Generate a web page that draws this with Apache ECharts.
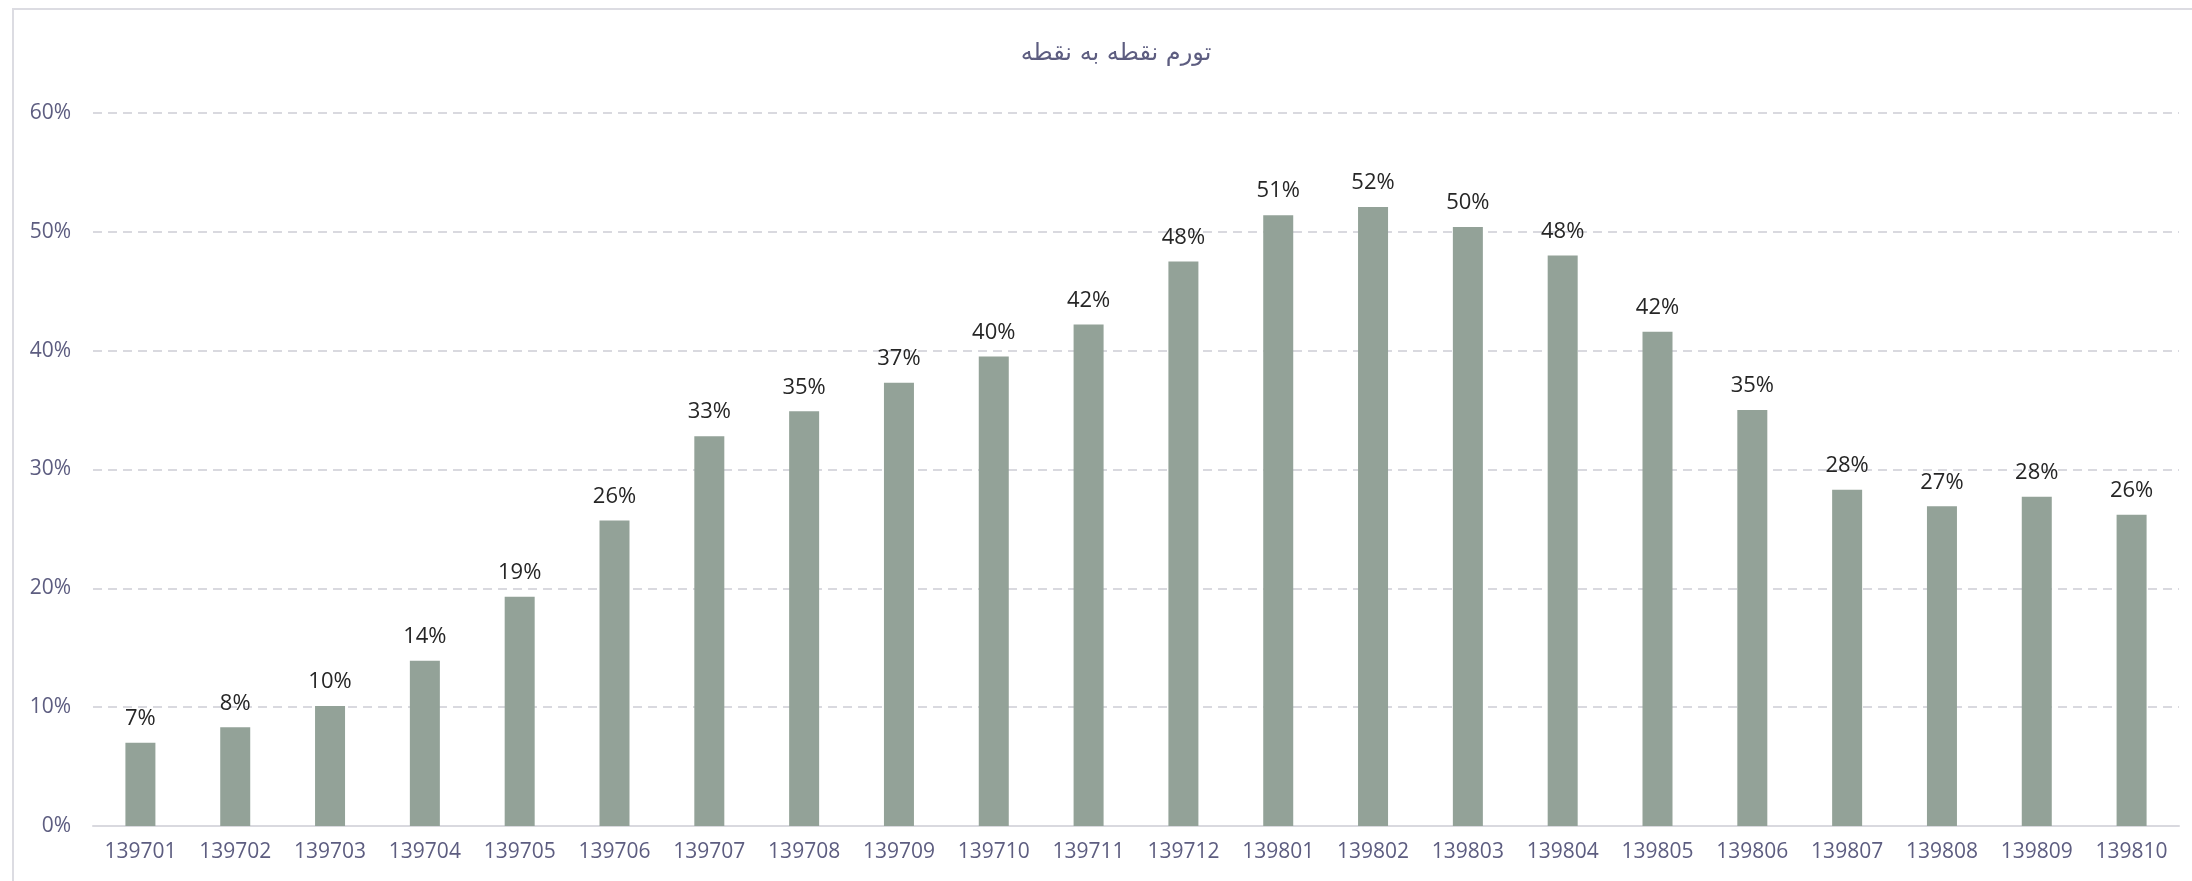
<!DOCTYPE html>
<html>
<head>
<meta charset="utf-8">
<script src="https://cdn.jsdelivr.net/npm/echarts@6/dist/echarts.min.js"></script>
<style>
  html, body { margin: 0; padding: 0; background: #fff; }
  #chart { width: 2192px; height: 881px; }
</style>
</head>
<body>
<div id="chart"></div>
<script>
const titleText = 'تورم نقطه به نقطه';
const months = [
  '139701', '139702', '139703', '139704', '139705', '139706', '139707', '139708',
  '139709', '139710', '139711', '139712', '139801', '139802', '139803', '139804',
  '139805', '139806', '139807', '139808', '139809', '139810'
];
// point-to-point inflation, percent
const inflation = [
  7.0, 8.3, 10.1, 13.9, 19.3, 25.7, 32.8, 34.9,
  37.3, 39.5, 42.2, 47.5, 51.4, 52.1, 50.4, 48.0,
  41.6, 35.0, 28.3, 26.9, 27.7, 26.2
];

const textColor = '#5d5d80';
const chart = echarts.init(document.getElementById('chart'));

chart.setOption({
  animation: false,
  backgroundColor: '#ffffff',
  graphic: [{
    type: 'polyline',
    shape: { points: [[13, 881], [13, 9], [2192, 9]] },
    style: { stroke: '#dcdce2', lineWidth: 2, fill: null },
    silent: true
  }],
  title: {
    text: titleText,
    left: 1111,
    textAlign: 'center',
    top: 37,
    textStyle: {
      color: textColor,
      fontFamily: 'DejaVu Sans',
      fontWeight: 'normal',
      fontSize: 24
    }
  },
  grid: { left: 93, right: 13, top: 113, bottom: 55, containLabel: false },
  xAxis: {
    type: 'category',
    data: months,
    axisTick: { show: false },
    axisLine: { lineStyle: { color: '#d9d9df', width: 2 } },
    axisLabel: {
      color: textColor,
      fontFamily: 'Open Sans',
      fontSize: 21,
      margin: 16,
      interval: 0
    }
  },
  yAxis: {
    type: 'value',
    min: 0,
    max: 60,
    interval: 10,
    axisLine: { show: false },
    axisTick: { show: false },
    axisLabel: {
      color: textColor,
      fontFamily: 'Open Sans',
      fontSize: 21,
      margin: 22,
      formatter: '{value}%'
    },
    splitLine: {
      lineStyle: { color: '#d9d9df', type: [9, 6], width: 2 }
    }
  },
  series: [{
    type: 'bar',
    data: inflation,
    barWidth: 30,
    itemStyle: { color: '#93a298' },
    label: {
      show: true,
      position: 'top',
      distance: 13,
      color: '#262626',
      fontFamily: 'Open Sans',
      fontSize: 22,
      formatter: (p) => Math.round(p.value) + '%'
    }
  }]
});
</script>
</body>
</html>
